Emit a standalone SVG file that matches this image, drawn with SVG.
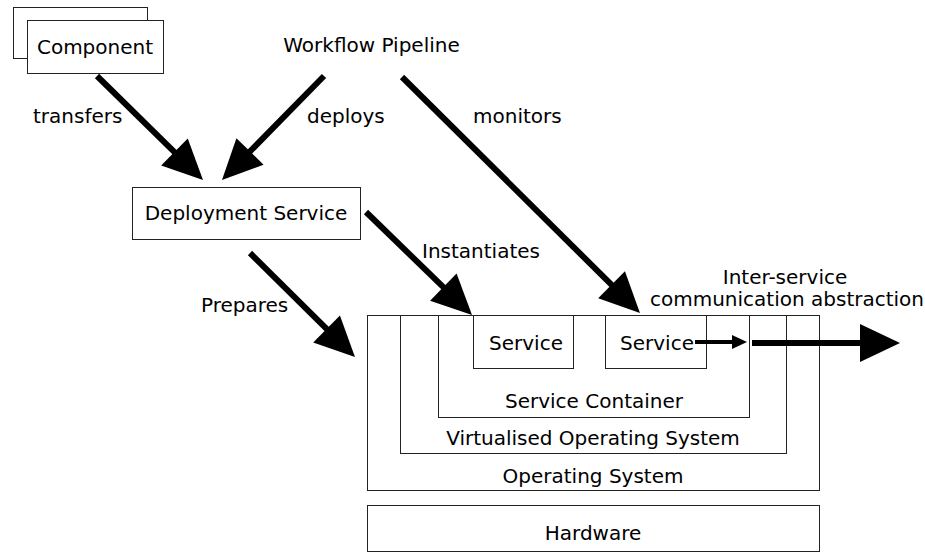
<svg xmlns="http://www.w3.org/2000/svg" width="925" height="553" viewBox="0 0 925 553">
<style>
  text { font-family: "DejaVu Sans", "Liberation Sans", sans-serif; font-size: 20px; fill: #000; }
  .c { text-anchor: middle; }
  .box { fill: #fff; stroke: #222; stroke-width: 1; }
  .edge { stroke: #000; stroke-width: 6; fill: none; }
  .thin { stroke: #000; stroke-width: 4; fill: none; }
</style>
<defs>
  <marker id="big" markerUnits="userSpaceOnUse" markerWidth="40" markerHeight="38" refX="4" refY="19" orient="auto" overflow="visible">
    <path d="M0,0 L40,19 L0,38 Z" fill="#000"/>
  </marker>
  <marker id="small" markerUnits="userSpaceOnUse" markerWidth="15" markerHeight="14" refX="3" refY="7" orient="auto" overflow="visible">
    <path d="M0,0 L15,7 L0,14 Z" fill="#000"/>
  </marker>
</defs>
<rect width="925" height="553" fill="#fff"/>

<g id="component">
  <rect class="box" x="13.5" y="7.5" width="134" height="51"/>
  <rect class="box" x="27.5" y="20.5" width="136" height="53"/>
  <text class="c" x="95" y="54">Component</text>
</g>

<g id="workflow-pipeline">
  <text class="c" x="371.5" y="52">Workflow Pipeline</text>
</g>

<g id="deployment-service">
  <rect class="box" x="132.5" y="187.5" width="228" height="52"/>
  <text class="c" x="246" y="220">Deployment Service</text>
</g>

<g id="hardware">
  <rect class="box" x="367.5" y="505.5" width="452" height="46"/>
  <text class="c" x="593" y="540">Hardware</text>
</g>

<g id="operating-system">
  <rect class="box" x="367.5" y="315.5" width="452" height="175"/>
  <text class="c" x="593" y="483">Operating System</text>
</g>

<g id="virtualised-os">
  <rect class="box" x="400.5" y="315.5" width="386" height="138"/>
  <text class="c" x="593" y="445">Virtualised Operating System</text>
</g>

<g id="service-container">
  <rect class="box" x="438.5" y="315.5" width="311" height="102"/>
  <text class="c" x="594" y="408">Service Container</text>
</g>

<g id="service-1">
  <rect class="box" x="473.5" y="315.5" width="100" height="53"/>
  <text class="c" x="526" y="350">Service</text>
</g>

<g id="service-2">
  <rect class="box" x="605.5" y="315.5" width="101" height="53"/>
  <text class="c" x="657" y="350">Service</text>
</g>

<g id="connectors">
  <line class="edge" x1="97" y1="76" x2="177.3" y2="154.8" marker-end="url(#big)"/>
  <line class="edge" x1="324" y1="76" x2="247.2" y2="154.3" marker-end="url(#big)"/>
  <line class="edge" x1="402" y1="77" x2="614.4" y2="287.6" marker-end="url(#big)"/>
  <line class="edge" x1="366" y1="212" x2="446.2" y2="289.9" marker-end="url(#big)"/>
  <line class="edge" x1="250" y1="253" x2="329.4" y2="331.7" marker-end="url(#big)"/>
  <line class="thin" x1="695" y1="342" x2="735" y2="342" marker-end="url(#small)"/>
  <line class="edge" x1="752" y1="343" x2="864" y2="343" stroke-width="5" marker-end="url(#big)"/>
  <text x="33" y="123">transfers</text>
  <text x="307" y="123">deploys</text>
  <text x="473" y="123">monitors</text>
  <text x="422" y="258">Instantiates</text>
  <text x="201" y="312">Prepares</text>
  <text class="c" x="785" y="284">Inter-service</text>
  <text class="c" x="787" y="306">communication abstraction</text>
</g>
</svg>
